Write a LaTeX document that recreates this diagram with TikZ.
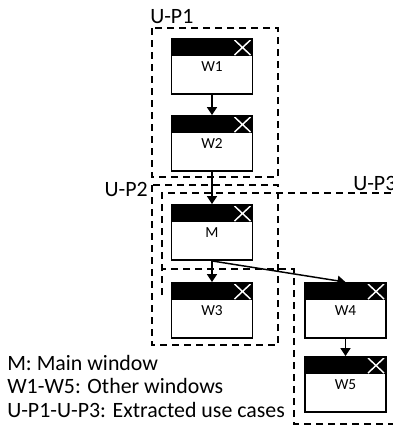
\documentclass[tikz,border=0pt]{standalone}
\usepackage{fontspec}
\setmainfont{Carlito}
\usetikzlibrary{arrows.meta, positioning}
\tikzset{
  win/.style={draw, line width=1.4pt, fill=white, minimum width=60.75pt, minimum height=41.25pt,
              inner sep=0pt, font=\fontsize{11.5}{13}\selectfont,
              path picture={
                \fill[black] (path picture bounding box.north west) rectangle ([yshift=-12.75pt]path picture bounding box.north east);
                \draw[white, line width=1.1pt] ([xshift=-13.5pt, yshift=-0.75pt]path picture bounding box.north east) -- ++(12pt,-11.25pt)
                  ([xshift=-1.5pt, yshift=-0.75pt]path picture bounding box.north east) -- ++(-12pt,-11.25pt);
              }},
  arr/.style={line width=1.1pt, -{Triangle[length=6pt, width=7.5pt]}},
  usecase/.style={dashed, line width=1.1pt, dash pattern=on 5.5pt off 3.5pt},
  tag/.style={inner sep=0pt, font=\fontsize{16.4}{20}\selectfont}
}
\begin{document}
\begin{tikzpicture}[x=0.75pt, y=-0.75pt]
  \useasboundingbox (0,0) rectangle (393,429);
  \draw[usecase] (152,28) rectangle (278,177);
  \draw[usecase] (152,185) rectangle (278,345);
  \draw[usecase] (162,295) -- (162,193) -- (400,193) -- (400,424) -- (294,424) -- (294,269) -- (162,269);
  \node[tag, anchor=base west] (up1) at (150,23) {U-P1};
  \node[tag, anchor=base east] (up2) at (148,196) {U-P2};
  \node[tag, anchor=base west] (up3) at (353,190) {U-P3};
  \foreach \n/\x/\y in {W1/212/66.5, W2/212/143.5, M/212/232.5, W3/212/310.5, W4/345.5/310.5, W5/345.5/384.5}
    \node[win] (\n) at (\x,\y) {\n};
  \foreach \a/\b in {W1/W2, W2/M, M/W3, W4/W5}
    \draw[arr] (\a) -- (\b);
  \draw[arr] (M.south) -- (W4.north);
  \node[tag, anchor=base west] (key1) at (7,370) {M: Main window};
  \node[tag, anchor=base west] (key2) at (7,393) {W1-W5: Other windows};
  \node[tag, anchor=base west] (key3) at (7,417) {U-P1-U-P3: Extracted use cases};
\end{tikzpicture}
\end{document}
